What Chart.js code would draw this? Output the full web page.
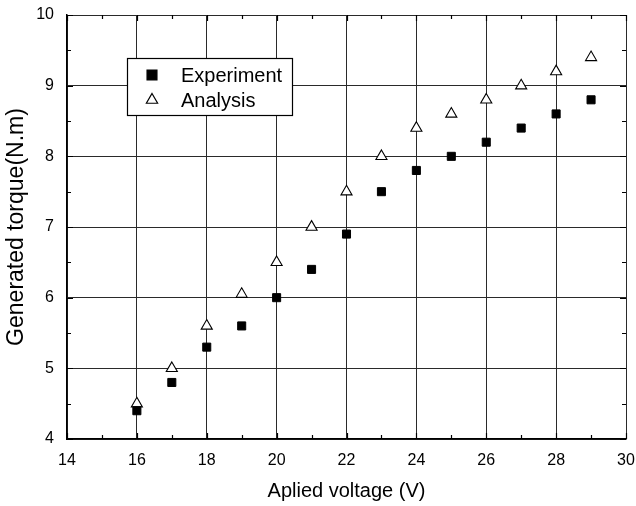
<!DOCTYPE html>
<html>
<head>
<meta charset="utf-8">
<script src="https://cdn.jsdelivr.net/npm/chart.js@4.4.1/dist/chart.umd.min.js"></script>
<style>
  html, body { margin: 0; padding: 0; background: #fff; }
  #wrap { width: 636px; height: 506px; }
</style>
</head>
<body>
<div id="wrap"><canvas id="myChart" width="636" height="506"></canvas></div>
<script>
// data
const voltage = [16, 17, 18, 19, 20, 21, 22, 23, 24, 25, 26, 27, 28, 29];
const experiment = [4.4, 4.8, 5.3, 5.6, 6.0, 6.4, 6.9, 7.5, 7.8, 8.0, 8.2, 8.4, 8.6, 8.8];
const analysis = [4.5, 5.0, 5.6, 6.05, 6.5, 7.0, 7.5, 8.0, 8.4, 8.6, 8.8, 9.0, 9.2, 9.4];
const xTicks = [14, 16, 18, 20, 22, 24, 26, 28, 30];
const yTicks = [4, 5, 6, 7, 8, 9, 10];

const FONT = "'Liberation Sans', Arial, sans-serif";

function toPoints(xs, ys) {
    return xs.map((x, i) => ({ x: x, y: ys[i] }));
}

// legend box inside the plot, like the original
const boxLegend = {
    id: 'boxLegend',
    afterDraw(chart) {
        const c = chart.ctx;
        const left = 127, top = 58, w = 165, h = 57;
        c.save();
        c.fillStyle = '#fff';
        c.fillRect(left, top, w, h);
        c.strokeStyle = '#000';
        c.lineWidth = 1.2;
        c.strokeRect(left + 0.5, top + 0.5, w, h);
        chart.data.datasets.forEach((ds, i) => {
            const y = top + 17 + i * 25;
            c.fillStyle = ds.backgroundColor;
            c.strokeStyle = ds.borderColor;
            c.lineWidth = 1.2;
            Chart.helpers.drawPoint(c, {
                pointStyle: ds.pointStyle,
                radius: ds.pointStyle === 'rect' ? 7 : 6.5,
                rotation: 0,
                borderWidth: 1.2
            }, 152, y);
            c.fillStyle = '#000';
            c.font = '20px ' + FONT;
            c.textBaseline = 'middle';
            c.textAlign = 'left';
            c.fillText(ds.label, 181, y + 1);
        });
        c.restore();
    }
};

// small inward ticks on all four sides
const innerTicks = {
    id: 'innerTicks',
    afterDatasetsDraw(chart) {
        const c = chart.ctx;
        const a = chart.chartArea;
        const xs = chart.scales.x, ys = chart.scales.y;
        c.save();
        c.strokeStyle = '#000';
        c.lineWidth = 1.2;
        c.beginPath();
        for (let v = xTicks[0]; v <= xTicks[xTicks.length - 1]; v += 1) {
            const px = Math.round(xs.getPixelForValue(v)) + 0.5;
            const len = v % 2 === 0 ? 6 : 4;
            c.moveTo(px, a.bottom); c.lineTo(px, a.bottom - len);
            c.moveTo(px, a.top); c.lineTo(px, a.top + len);
        }
        for (let v = yTicks[0]; v <= yTicks[yTicks.length - 1]; v += 0.5) {
            const py = Math.round(ys.getPixelForValue(v)) + 0.5;
            const len = v % 1 === 0 ? 6 : 4;
            c.moveTo(a.left, py); c.lineTo(a.left + len, py);
            c.moveTo(a.right, py); c.lineTo(a.right - len, py);
        }
        c.stroke();
        c.restore();
    }
};

let ctx = document.getElementById('myChart').getContext('2d');

new Chart(ctx, {
    type: 'scatter',
    data: {
        datasets: [
            {
                label: 'Experiment',
                data: toPoints(voltage, experiment),
                pointStyle: 'rect',
                pointRadius: 5.7,
                backgroundColor: '#000',
                borderColor: '#000',
                borderWidth: 1,
            },
            {
                label: 'Analysis',
                data: toPoints(voltage, analysis),
                pointStyle: 'triangle',
                pointRadius: 6.4,
                backgroundColor: '#fff',
                borderColor: '#000',
                borderWidth: 1.1,
            },
        ],
    },
    options: {
        responsive: false,
        animation: false,
        layout: { padding: { top: 15, right: 10, left: 0, bottom: 0 } },
        plugins: {
            legend: { display: false },
            tooltip: { enabled: false },
        },
        scales: {
            x: {
                type: 'linear',
                min: 14,
                max: 30,
                afterBuildTicks: (scale) => { scale.ticks = xTicks.map(v => ({ value: v })); },
                afterFit: (scale) => {
                    scale.height = 67;
                    scale.paddingLeft = 0;
                    scale.paddingRight = 0;
                },
                grid: { color: '#2a2a2a', lineWidth: 1, drawTicks: false },
                border: { color: '#000', width: 1.5 },
                ticks: { color: '#000', padding: 12, font: { family: FONT, size: 16 } },
                title: {
                    display: true,
                    text: 'Aplied voltage (V)',
                    color: '#000',
                    font: { family: FONT, size: 20 },
                    padding: { top: 0, bottom: 3 },
                },
            },
            y: {
                type: 'linear',
                min: 4,
                max: 10,
                afterBuildTicks: (scale) => { scale.ticks = yTicks.map(v => ({ value: v })); },
                afterFit: (scale) => {
                    scale.width = 67;
                    scale.paddingTop = 0;
                    scale.paddingBottom = 0;
                },
                grid: { color: '#2a2a2a', lineWidth: 1, drawTicks: false },
                border: { color: '#000', width: 1.5 },
                ticks: { color: '#000', padding: 13, font: { family: FONT, size: 16 } },
                title: {
                    display: true,
                    text: 'Generated torque(N.m)',
                    color: '#000',
                    font: { family: FONT, size: 23 },
                    padding: { top: 3, bottom: 0 },
                },
            },
        },
    },
    plugins: [innerTicks, boxLegend],
});
</script>
</body>
</html>
